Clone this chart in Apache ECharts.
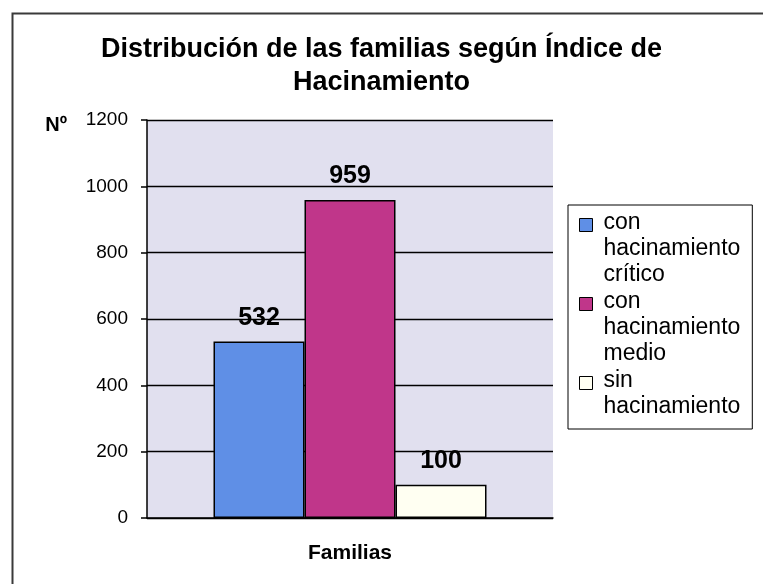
<!DOCTYPE html>
<html>
<head>
<meta charset="utf-8">
<script src="https://cdn.jsdelivr.net/npm/echarts@6/dist/echarts.min.js"></script>
<style>html,body{margin:0;padding:0;background:#fff}#c{width:763px;height:584px}</style>
</head>
<body>
<div id="c"></div>
<script>
const titleText = 'Distribución de las familias según Índice de\nHacinamiento';
const categories = ['Familias'];
const seriesNames = ['con hacinamiento crítico', 'con hacinamiento medio', 'sin hacinamiento'];
const seriesValues = [[532], [959], [100]];
const seriesColors = ['#5f8fe6', '#c0368a', '#fffff2'];
const legendLines = ['con\nhacinamiento\ncrítico', 'con\nhacinamiento\nmedio', 'sin\nhacinamiento\n\u00a0'];
const yTicks = { min: 0, max: 1200, interval: 200 };
const yName = 'Nº';

const FONT = '"Liberation Sans", Arial, sans-serif';
const chart = echarts.init(document.getElementById('c'), null, { renderer: 'canvas' });

const legendIcon = 'path://M0,0L0,0 M0,9L13,9L13,22L0,22Z M19,78L19,78';

chart.setOption({
  backgroundColor: '#ffffff',
  animation: false,
  title: {
    text: titleText,
    left: 'center',
    top: 28,
    padding: [5, 0, 5, 10],
    textStyle: { fontFamily: FONT, fontSize: 27, fontWeight: 'bold', color: '#000', lineHeight: 33 }
  },
  graphic: [{
    type: 'rect',
    left: 10, top: 11,
    shape: { width: 800, height: 620 },
    style: { fill: 'none', stroke: '#3a3a3a', lineWidth: 2 },
    silent: true
  }],
  legend: {
    orient: 'vertical',
    left: 568,
    top: 205,
    padding: [4, 12, -17, 11],
    itemGap: 0,
    itemWidth: 19,
    itemHeight: 78,
    selectedMode: false,
    backgroundColor: '#ffffff',
    borderColor: '#000',
    borderWidth: 1,
    data: seriesNames.map(n => ({ name: n, icon: legendIcon })),
    itemStyle: { borderColor: '#000', borderWidth: 1 },
    formatter: function (name) { return legendLines[seriesNames.indexOf(name)]; },
    textStyle: { fontFamily: FONT, fontSize: 23, lineHeight: 26, color: '#000' }
  },
  grid: {
    left: 147, right: 210, top: 120, bottom: 66,
    show: true, backgroundColor: '#e1e0ef', borderWidth: 0
  },
  xAxis: {
    type: 'category',
    data: categories,
    axisLine: { show: true, lineStyle: { color: '#000', width: 1.5 } },
    axisTick: { show: false },
    axisLabel: { margin: 25, fontFamily: FONT, fontSize: 21, fontWeight: 'bold', color: '#000' }
  },
  yAxis: {
    type: 'value',
    min: yTicks.min, max: yTicks.max, interval: yTicks.interval,
    name: yName,
    nameLocation: 'end',
    nameGap: -5,
    nameTextStyle: { fontFamily: FONT, fontSize: 20, fontWeight: 'bold', color: '#000', align: 'right', verticalAlign: 'middle', padding: [0, 80, 0, 0] },
    axisLine: { show: true, lineStyle: { color: '#000', width: 1.5 } },
    axisTick: { show: true, inside: false, length: 6, lineStyle: { color: '#000', width: 1.5 } },
    axisLabel: { margin: 19, fontFamily: FONT, fontSize: 19, color: '#000', formatter: v => String(v) },
    splitLine: { show: true, lineStyle: { color: '#000', width: 1.3 } }
  },
  series: seriesNames.map((n, i) => ({
    name: n,
    type: 'bar',
    data: seriesValues[i],
    barWidth: 91,
    barGap: '0%',
    itemStyle: { color: seriesColors[i], borderColor: '#000', borderWidth: 1.5 },
    label: { show: true, position: 'top', distance: 11, fontFamily: FONT, fontSize: 25, fontWeight: 'bold', color: '#000' }
  }))
});
</script>
</body>
</html>
